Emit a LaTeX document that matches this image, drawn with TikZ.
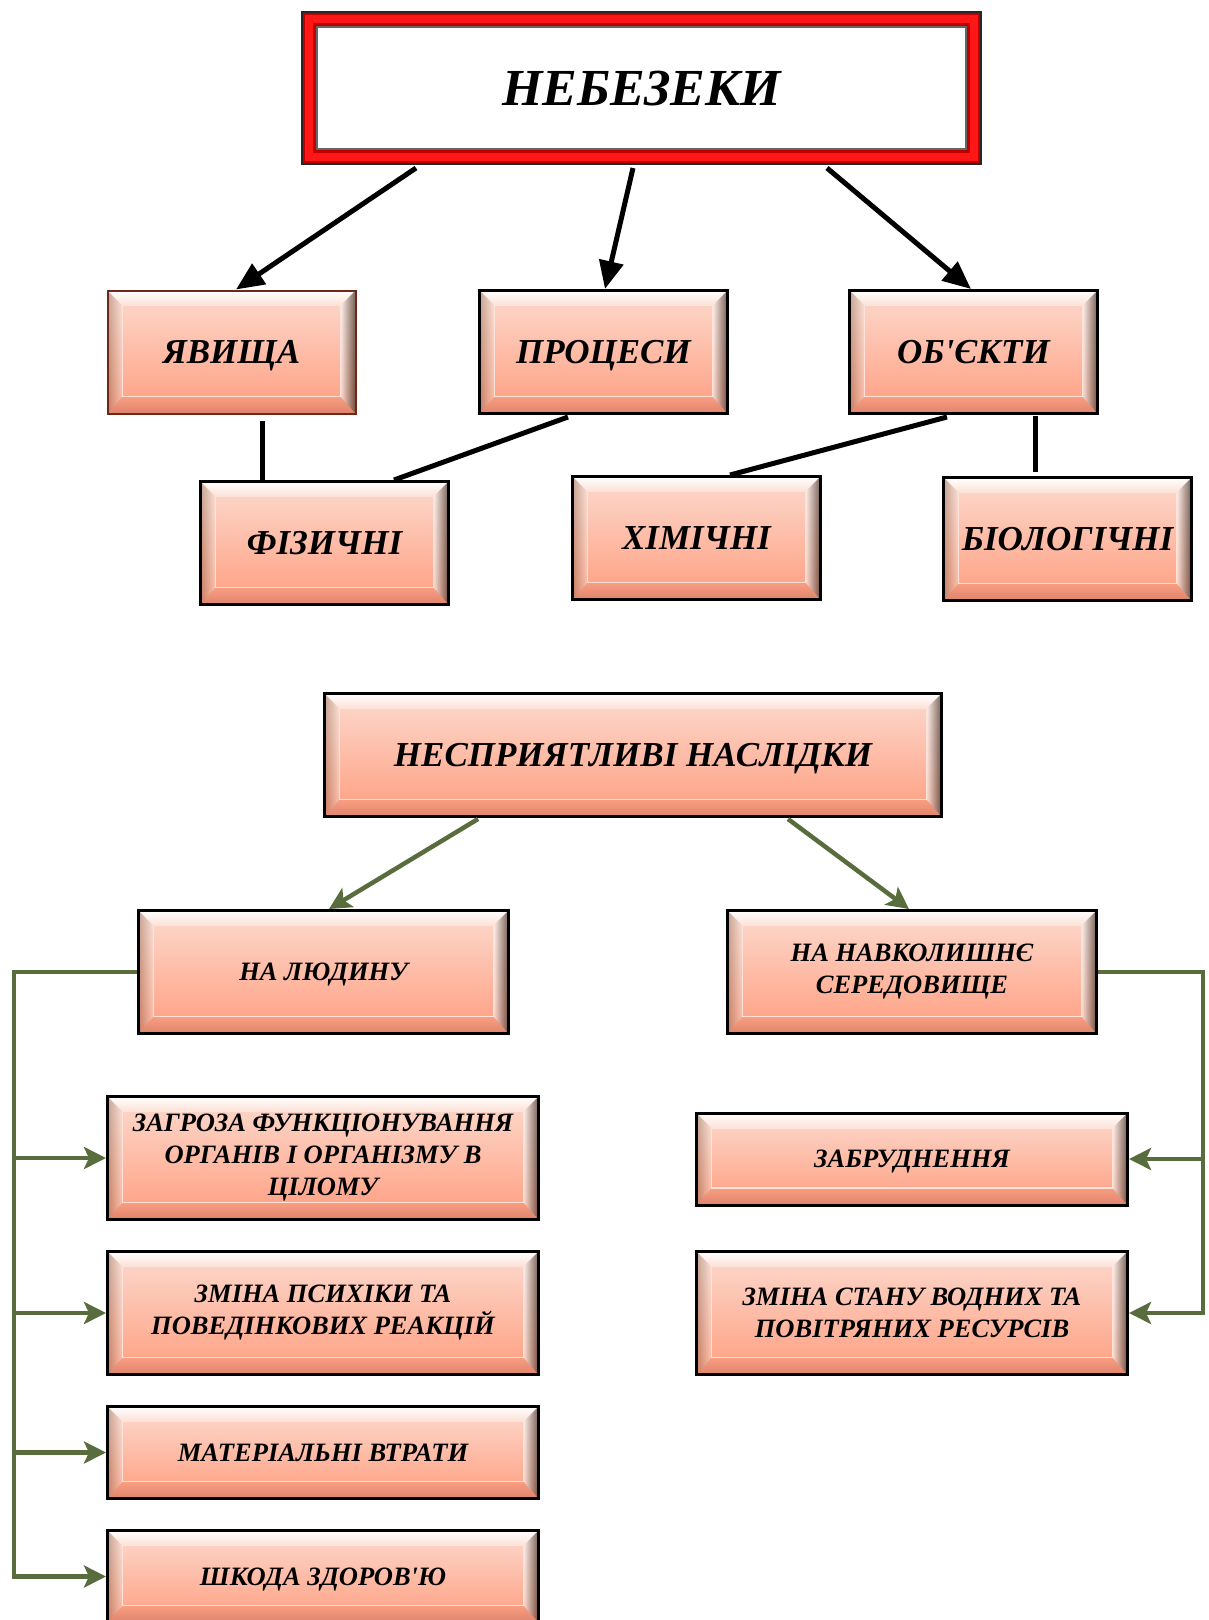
\documentclass[tikz,border=0pt]{standalone}
\usepackage{fontspec}
\setmainfont{Liberation Serif}[Ligatures=TeXOff]
\usetikzlibrary{arrows.meta,calc}
\definecolor{faceT}{RGB}{252,218,206}
\definecolor{faceM}{RGB}{254,166,137}
\definecolor{faceB}{RGB}{255,158,128}
\definecolor{botA}{RGB}{250,158,130}
\definecolor{botB}{RGB}{222,132,108}
\definecolor{topB}{RGB}{252,225,215}
\definecolor{gline}{RGB}{88,108,62}
\definecolor{brownB}{RGB}{110,40,25}
\definecolor{redA}{RGB}{190,0,0}
\definecolor{redB}{RGB}{255,22,22}
\begin{document}
\begin{tikzpicture}[x=1pt,y=-1pt,
  bx/.style={draw=black, line width=3pt, inner sep=0pt, align=center,
    top color=faceT, middle color=faceM, bottom color=faceB,
    font=\bfseries\itshape,
    path picture={
      \coordinate (bbnw) at (path picture bounding box.north west);
      \coordinate (bbne) at (path picture bounding box.north east);
      \coordinate (bbsw) at (path picture bounding box.south west);
      \coordinate (bbse) at (path picture bounding box.south east);
      \coordinate (binw) at ([xshift=15pt,yshift=-15pt]bbnw);
      \coordinate (bine) at ([xshift=-15pt,yshift=-15pt]bbne);
      \coordinate (bisw) at ([xshift=15pt,yshift=17pt]bbsw);
      \coordinate (bise) at ([xshift=-15pt,yshift=17pt]bbse);
      \shade[top color=white, bottom color=topB] (bbnw) -- (bbne) -- (bine) -- (binw) -- cycle;
      \shade[top color=botA, bottom color=botB] (bbsw) -- (bbse) -- (bise) -- (bisw) -- cycle;
      \shade[left color=black!60!brown, right color=white, fill opacity=0.3] (bbnw) -- (binw) -- (bisw) -- (bbsw) -- cycle;
      \shade[left color=white, right color=black!85!brown, fill opacity=0.6] (bbne) -- (bine) -- (bise) -- (bbse) -- cycle;
      \draw[line width=1.2pt, white!70!faceB] (binw) rectangle (bise);
    }},
  one/.style={text depth=0pt},
  s1/.style={one, minimum width=248pt, minimum height=123pt, text height=23.5pt, font=\bfseries\itshape\fontsize{35}{40}\selectfont},
  sw/.style={minimum width=431pt, minimum height=123pt, font=\bfseries\itshape\fontsize{26.5}{32}\selectfont},
  sn/.style={one, minimum width=431pt, minimum height=92pt, text height=17.8pt, font=\bfseries\itshape\fontsize{26.5}{32}\selectfont},
  blk/.style={line width=5pt, black},
  barr/.style={blk, -{Triangle[length=28pt,width=24pt]}},
  gl/.style={line width=4.5pt, gline},
  garr/.style={gl, -{Stealth[length=22pt,width=22pt,inset=5pt]}},
]
\useasboundingbox (0,0) rectangle (1208,1620);
\begin{scope}
\clip (0,0) rectangle (1208,1620);

% title
\node[draw=redA, line width=16pt, fill=white, minimum width=665pt, minimum height=138pt,
      inner sep=0pt, one, text height=35pt, font=\bfseries\itshape\fontsize{52}{60}\selectfont] (title) at (641.5,88) {НЕБЕЗЕКИ};
\draw[redB, line width=8pt] ([xshift=8pt,yshift=-8pt]title.north west) rectangle ([xshift=-8pt,yshift=8pt]title.south east);
\draw[black!85, line width=2pt] ([xshift=1pt,yshift=-1pt]title.north west) rectangle ([xshift=-1pt,yshift=1pt]title.south east);
\draw[black!60, line width=1.5pt] ([xshift=16pt,yshift=-16pt]title.north west) rectangle ([xshift=-16pt,yshift=16pt]title.south east);

% level 1
\node[bx, s1, draw=brownB, line width=2pt] (yav) at (231.5,352) {ЯВИЩА};
\node[bx, s1] (proc) at (603.5,352) {ПРОЦЕСИ};
\node[bx, s1] (obj) at (973.5,352) {ОБ'ЄКТИ};
\node[bx, s1] (fiz) at (324.5,543) {ФІЗИЧНІ};
\node[bx, s1] (him) at (696.5,538) {ХІМІЧНІ};
\node[bx, s1] (bio) at (1067.5,539) {БІОЛОГІЧНІ};

\draw[barr] ([xshift=-225.5pt,yshift=-3pt]title.south) -- ([xshift=4.5pt]yav.north);
\draw[barr] ([xshift=-8.5pt,yshift=-3pt]title.south) -- ([xshift=1.5pt]proc.north);
\draw[barr] ([xshift=185.5pt,yshift=-3pt]title.south) -- ([xshift=-2.5pt]obj.north);

\draw[blk] ([xshift=30.5pt,yshift=-6pt]yav.south) -- ([xshift=30.5pt]yav.south |- fiz.north);
\draw[blk] ([xshift=-35.5pt,yshift=-2pt]proc.south) -- ([xshift=69.5pt]fiz.north);
\draw[blk] ([xshift=-26.5pt,yshift=-2pt]obj.south) -- ([xshift=33.5pt]him.north);
\draw[blk] ([xshift=61.5pt,yshift=-1pt]obj.south) -- ([xshift=61.5pt,yshift=4pt]obj.south |- bio.north);

% lower part
\node[bx, one, minimum width=617pt, minimum height=123pt, text height=23.5pt, font=\bfseries\itshape\fontsize{35}{40}\selectfont] (nesp) at (633,755) {НЕСПРИЯТЛИВІ НАСЛІДКИ};
\node[bx, one, minimum width=370pt, minimum height=123pt, text height=17.8pt, font=\bfseries\itshape\fontsize{26.5}{32}\selectfont] (lud) at (323.5,972) {НА ЛЮДИНУ};
\node[bx, minimum width=369pt, minimum height=123pt, font=\bfseries\itshape\fontsize{26.5}{32}\selectfont] (nav) at (912,972) {НА НАВКОЛИШНЄ\\СЕРЕДОВИЩЕ};

\draw[garr] ([xshift=-155pt,yshift=-1pt]nesp.south) -- ([xshift=5.5pt]lud.north);
\draw[garr] ([xshift=155pt,yshift=-1pt]nesp.south) -- ([xshift=-3pt]nav.north);

\node[bx, sw] (zag) at (323,1158) {ЗАГРОЗА ФУНКЦІОНУВАННЯ\\ОРГАНІВ І ОРГАНІЗМУ В\\ЦІЛОМУ};
\node[bx, sw] (psy) at (323,1313) {ЗМІНА ПСИХІКИ ТА\\ПОВЕДІНКОВИХ РЕАКЦІЙ};
\node[bx, sn] (mat) at (323,1452.5) {МАТЕРІАЛЬНІ ВТРАТИ};
\node[bx, sn] (shk) at (323,1576.5) {ШКОДА ЗДОРОВ'Ю};

\node[bx, sn] (zab) at (912,1159) {ЗАБРУДНЕННЯ};
\node[bx, sw] (zmi) at (912,1313) {ЗМІНА СТАНУ ВОДНИХ ТА\\ПОВІТРЯНИХ РЕСУРСІВ};

\coordinate (tl) at (14,1000);
\coordinate (tr) at (1203,1000);
\draw[garr] (lud.west) -| (tl |- shk.west) -- (shk.west);
\draw[garr] (tl |- zag.west) -- (zag.west);
\draw[garr] (tl |- psy.west) -- (psy.west);
\draw[garr] (tl |- mat.west) -- (mat.west);
\draw[garr] (nav.east) -| (tr |- zmi.east) -- (zmi.east);
\draw[garr] (tr |- zab.east) -- (zab.east);
\end{scope}
\end{tikzpicture}
\end{document}
